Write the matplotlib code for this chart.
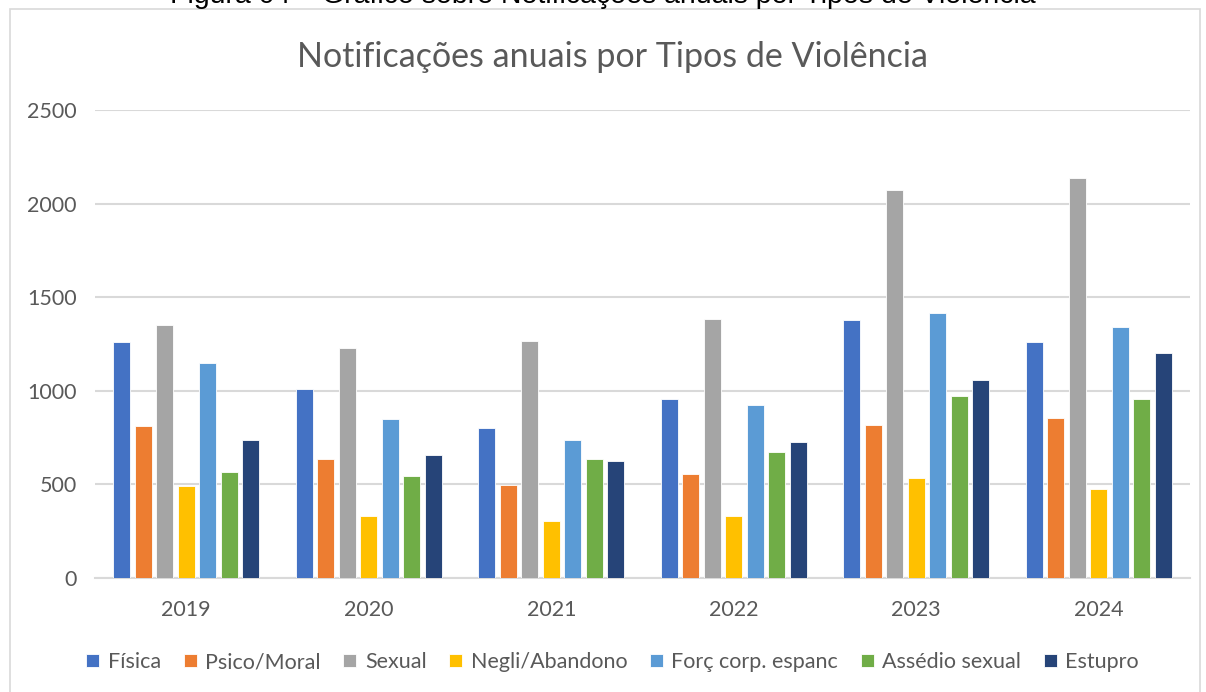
import matplotlib.pyplot as plt
from matplotlib.patches import Rectangle
import numpy as np

years = ['2019', '2020', '2021', '2022', '2023', '2024']
tipos = ['Física', 'Psico/Moral', 'Sexual', 'Negli/Abandono',
         'Forç corp. espanc', 'Assédio sexual', 'Estupro']

fisica = [1262, 1008, 800, 956, 1380, 1262]
psico = [813, 634, 497, 554, 816, 856]
sexual = [1351, 1230, 1266, 1384, 2071, 2135]
negli = [491, 329, 304, 329, 533, 475]
forc = [1150, 849, 735, 924, 1414, 1341]
assedio = [568, 543, 634, 672, 971, 955]
estupro = [735, 657, 623, 728, 1056, 1200]

series = [fisica, psico, sexual, negli, forc, assedio, estupro]
colors = ['#4472C4', '#ED7D31', '#A5A5A5', '#FFC000', '#5B9BD5', '#70AD47', '#264478']

plt.rcParams['font.family'] = ['Lato', 'DejaVu Sans']

fig = plt.figure(figsize=(12.06, 6.92), dpi=100)
ax = fig.add_axes([0.0788, 0.1647, 0.9079, 0.6763])

x = np.arange(len(years))
pitch = 0.118
width = 0.092
for i, (vals, col, lab) in enumerate(zip(series, colors, tipos)):
    off = (i - 3) * pitch
    ax.bar(x + off, vals, width=width, color=col, edgecolor='white',
           linewidth=0.6, label=lab, zorder=3)

ax.set_xlim(-0.5, 5.5)
ax.set_ylim(0, 2500)
ax.set_yticks(range(0, 2501, 500))
ax.set_xticks(x)
ax.set_xticklabels(years)
ax.grid(axis='y', color='#d9d9d9', linewidth=1.5, zorder=0)
for s in ['top', 'right', 'left']:
    ax.spines[s].set_visible(False)
ax.spines['bottom'].set_color('#d9d9d9')
ax.spines['bottom'].set_linewidth(1.5)
ax.tick_params(axis='both', length=0, labelsize=15.5, colors='#595959')
ax.tick_params(axis='x', pad=16)
ax.tick_params(axis='y', pad=13)

fig.text(0.508, 1 - 57 / 692, 'Notificações anuais por Tipos de Violência',
         ha='center', va='center', fontsize=24.5, color='#595959')

fig.legend(loc='center', bbox_to_anchor=(0.508, 0.043), ncol=7, frameon=False,
           fontsize=15.5, handlelength=0.6, handleheight=0.6, handletextpad=0.4,
           columnspacing=1.05, labelcolor='#595959')

# chart border and cut caption above
fig.patches.append(Rectangle((0.0083, -0.01), 0.9867, 0.997,
                             transform=fig.transFigure, fill=False,
                             edgecolor='#d9d9d9', linewidth=1.2))
fig.text(0.5, 1 - 3 / 692, 'Figura 04 – Gráfico sobre Notificações anuais por Tipos de Violência',
         ha='center', va='baseline', fontsize=20.5, color='black',
         family=['Liberation Sans', 'DejaVu Sans'])

fig.savefig('out.png', dpi=100)
